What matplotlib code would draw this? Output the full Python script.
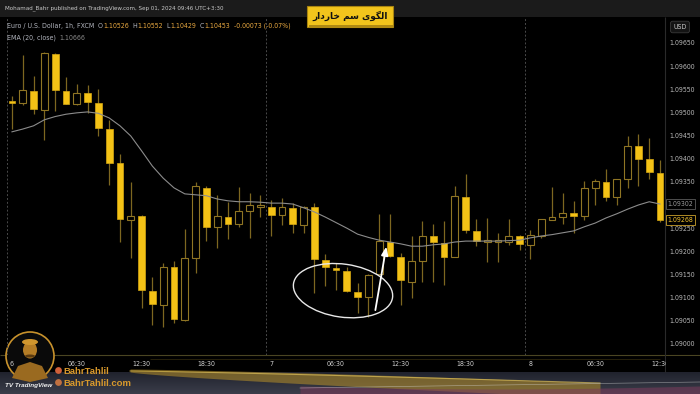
import numpy as np
import matplotlib
matplotlib.use('Agg')
import matplotlib.pyplot as plt
from matplotlib.patches import Rectangle, Ellipse, Circle, Polygon
import matplotlib.transforms as mtransforms
from matplotlib import font_manager as fm

# ---------------- data (EUR/USD 1h, FXCM) ----------------
opens = [1.09525, 1.09520, 1.09547, 1.09505, 1.09626, 1.09547, 1.09518, 1.09541, 1.09520, 1.09464,
         1.09390, 1.09268, 1.09277, 1.09114, 1.09084, 1.09167, 1.09052, 1.09185, 1.09337, 1.09252,
         1.09275, 1.09259, 1.09286, 1.09296, 1.09295, 1.09278, 1.09294, 1.09257, 1.09295, 1.09181,
         1.09163, 1.09158, 1.09113, 1.09101, 1.09151, 1.09221, 1.09187, 1.09133, 1.09179, 1.09234,
         1.09217, 1.09187, 1.09318, 1.09244, 1.09221, 1.09221, 1.09221, 1.09232, 1.09214, 1.09233,
         1.09268, 1.09274, 1.09282, 1.09276, 1.09336, 1.09349, 1.09317, 1.09356, 1.09428, 1.09399,
         1.09370]
highs = [1.09536, 1.09624, 1.09579, 1.09631, 1.09629, 1.09577, 1.09561, 1.09559, 1.09551, 1.09484,
         1.09410, 1.09350, 1.09278, 1.09145, 1.09174, 1.09179, 1.09248, 1.09350, 1.09342, 1.09322,
         1.09306, 1.09338, 1.09325, 1.09322, 1.09311, 1.09315, 1.09304, 1.09298, 1.09305, 1.09194,
         1.09174, 1.09167, 1.09131, 1.09151, 1.09281, 1.09281, 1.09196, 1.09232, 1.09266, 1.09258,
         1.09266, 1.09341, 1.09367, 1.09269, 1.09271, 1.09239, 1.09269, 1.09235, 1.09246, 1.09269,
         1.09338, 1.09325, 1.09309, 1.09352, 1.09356, 1.09377, 1.09356, 1.09448, 1.09453, 1.09444,
         1.09397]
lows = [1.09464, 1.09516, 1.09497, 1.09440, 1.09502, 1.09518, 1.09516, 1.09499, 1.09448, 1.09343,
        1.09221, 1.09185, 1.09077, 1.09041, 1.09037, 1.09046, 1.09050, 1.09153, 1.09223, 1.09207,
        1.09227, 1.09252, 1.09228, 1.09275, 1.09232, 1.09257, 1.09239, 1.09239, 1.09109, 1.09124,
        1.09116, 1.09113, 1.09066, 1.09059, 1.09149, 1.09187, 1.09084, 1.09099, 1.09134, 1.09134,
        1.09127, 1.09187, 1.09240, 1.09212, 1.09176, 1.09176, 1.09214, 1.09203, 1.09183, 1.09228,
        1.09267, 1.09259, 1.09239, 1.09268, 1.09300, 1.09309, 1.09300, 1.09336, 1.09340, 1.09356,
        1.09263]
closes = [1.09521, 1.09548, 1.09507, 1.09628, 1.09548, 1.09519, 1.09541, 1.09522, 1.09466, 1.09391,
          1.09270, 1.09277, 1.09116, 1.09086, 1.09167, 1.09053, 1.09185, 1.09340, 1.09253, 1.09277,
          1.09259, 1.09286, 1.09300, 1.09300, 1.09278, 1.09295, 1.09259, 1.09296, 1.09183, 1.09166,
          1.09159, 1.09115, 1.09102, 1.09149, 1.09223, 1.09190, 1.09137, 1.09179, 1.09234, 1.09219,
          1.09188, 1.09320, 1.09246, 1.09222, 1.09224, 1.09223, 1.09233, 1.09216, 1.09235, 1.09269,
          1.09275, 1.09283, 1.09277, 1.09336, 1.09352, 1.09318, 1.09356, 1.09428, 1.09399, 1.09371,
          1.09268]
ema20 = [1.09458, 1.09464, 1.09471, 1.09484, 1.09491, 1.09496, 1.09499, 1.09501, 1.09498, 1.09488,
         1.09471, 1.09449, 1.09417, 1.09384, 1.09358, 1.09337, 1.09324, 1.09322, 1.09320, 1.09313,
         1.09309, 1.09307, 1.09307, 1.09306, 1.09304, 1.09304, 1.09302, 1.09294, 1.09285, 1.09274,
         1.09262, 1.09250, 1.09237, 1.09230, 1.09224, 1.09220, 1.09216, 1.09211, 1.09211, 1.09214,
         1.09216, 1.09220, 1.09222, 1.09222, 1.09222, 1.09222, 1.09223, 1.09224, 1.09229, 1.09233,
         1.09236, 1.09240, 1.09244, 1.09253, 1.09261, 1.09272, 1.09281, 1.09291, 1.09300, 1.09307,
         1.09302]

time_tick_pos = [0, 6, 12, 18, 24, 30, 36, 42, 48, 54, 60]
time_tick_labels = ['6', '06:30', '12:30', '18:30', '7', '06:30', '12:30', '18:30', '8', '06:30', '12:30']
# scale labels shown (1.09300 is hidden behind the EMA price tag)
price_ticks = [1.09000, 1.09050, 1.09100, 1.09150, 1.09200, 1.09250,
               1.09350, 1.09400, 1.09450, 1.09500, 1.09550, 1.09600, 1.09650]
session_breaks = [-0.5, 23.5, 47.5]
last_price = 1.09268
ema_last = 1.09302

title_fa = "الگوی سم خاردار"
header_text = "Mohamad_Bahr published on TradingView.com, Sep 01, 2024 09:46 UTC+3:30"
symbol_text = "Euro / U.S. Dollar, 1h, FXCM"
ohlc_labels = ['O', 'H', 'L', 'C']
ohlc_values = ['1.10526', '1.10552', '1.10429', '1.10453']
change_text = "-0.00073 (-0.07%)"
ema_label = "EMA (20, close)"
ema_value = "1.10666"

# pattern annotation (bar index, price)
ellipse_center = (30.65, 1.09115)
arrow_from = (33.6, 1.09067)
arrow_to = (34.7, 1.09216)

# ---------------- simple Persian shaping for display ----------------
_forms = {
    'ا': ('\uFE8D', '\uFE8E', None, None),
    'ل': ('\uFEDD', '\uFEDE', '\uFEDF', '\uFEE0'),
    'گ': ('\uFB92', '\uFB93', '\uFB94', '\uFB95'),
    'و': ('\uFEED', '\uFEEE', None, None),
    'ی': ('\uFBFC', '\uFBFD', '\uFBFE', '\uFBFF'),
    'س': ('\uFEB1', '\uFEB2', '\uFEB3', '\uFEB4'),
    'م': ('\uFEE1', '\uFEE2', '\uFEE3', '\uFEE4'),
    'خ': ('\uFEA5', '\uFEA6', '\uFEA7', '\uFEA8'),
    'ر': ('\uFEAD', '\uFEAE', None, None),
    'د': ('\uFEA9', '\uFEAA', None, None),
}


def shape_fa(s):
    out = []
    for i, ch in enumerate(s):
        if ch not in _forms:
            out.append(ch)
            continue
        prev = s[i - 1] if i > 0 else ''
        nxt = s[i + 1] if i + 1 < len(s) else ''
        jp = prev in _forms and _forms[prev][2] is not None
        jn = nxt in _forms and _forms[ch][2] is not None
        iso, fin, ini, med = _forms[ch]
        if jp and jn:
            out.append(med)
        elif jp:
            out.append(fin)
        elif jn:
            out.append(ini)
        else:
            out.append(iso)
    return ''.join(reversed(out))


# ---------------- font selection (prefer a condensed face) ----------------
def pick_narrow():
    prefs = ['Liberation Sans Narrow', 'DejaVu Sans', 'Roboto', 'Open Sans', 'Noto Sans', 'Lato']
    for name in prefs:
        for f in fm.fontManager.ttflist:
            if f.name != name or f.style != 'normal':
                continue
            if str(f.weight).lower() not in ('400', 'normal', 'regular', 'book'):
                continue
            if 'condensed' in str(f.stretch) or 'Narrow' in name:
                return fm.FontProperties(fname=f.fname)
    return fm.FontProperties(family='Roboto')


BASE_FP = pick_narrow()

# ---------------- figure ----------------
W, H = 700, 394
fig = plt.figure(figsize=(7.0, 3.94), dpi=100, facecolor='#111111')
renderer = fig.canvas.get_renderer()


def fp_size(size):
    p = BASE_FP.copy()
    p.set_size(size)
    return p


def text_width(s, fp):
    t = fig.text(0, 0, s, fontproperties=fp)
    w = t.get_window_extent(renderer).width
    t.remove()
    return w


def fit_size(s, target_px, lo=4.0, hi=7.0):
    w = text_width(s, fp_size(6.0))
    return float(np.clip(6.0 * target_px / w, lo, hi))


# background overlay (pixel coords)
bg = fig.add_axes([0, 0, 1, 1], zorder=-1)
bg.set_xlim(0, W)
bg.set_ylim(H, 0)
bg.axis('off')
bg.add_patch(Rectangle((0, 0), W, 17, color='#1b1b1b', lw=0))
bg.add_patch(Rectangle((0, 17), W, 355, color='#000000', lw=0))
grad = np.linspace(0, 1, 50)[:, None]
bg.imshow(np.dstack([0.11 + 0.12 * grad, 0.12 + 0.12 * grad, 0.16 + 0.13 * grad]) * np.ones((1, 10, 1)),
          extent=(0, W, 394, 369), aspect='auto', zorder=0.5)
xs = np.linspace(130, 600, 100)
t = (xs - 130) / 470
top = 369 + 14 * t ** 1.3
bot = 372 + 26 * t ** 0.8
bg.fill_between(xs, top, bot, color='#b8912a', alpha=0.55, lw=0, zorder=1)
bg.plot(xs, 371 + 12 * t ** 1.2, color='#f0d060', lw=0.8, alpha=0.6, zorder=1.1)
xs2 = np.linspace(300, 700, 100)
t2 = (xs2 - 300) / 400
bg.fill_between(xs2, 386 + 3 * np.sin(t2 * np.pi), 394, color='#7a3a5a', alpha=0.55, lw=0, zorder=1)
bg.plot(xs2, 388 - 6 * t2, color='#d8d8d8', lw=0.5, alpha=0.5, zorder=1.2)
bg.hlines(355, 0, W, color='#4a4522', lw=0.8, zorder=2)
bg.hlines(359, 150, 660, color='#5a4a18', lw=0.5, alpha=0.6, zorder=2)
bg.vlines(665, 17, 372, color='#2a2a2a', lw=0.8, zorder=2)

# logo (behind the chart's tick labels)
bg.add_patch(Circle((30, 356), 24, fc='#0a0a0a', ec='#c8922c', lw=1.2, zorder=3))
bg.add_patch(Polygon([[12, 378], [18, 366], [30, 362], [42, 366], [48, 378], [30, 382]],
                     closed=True, fc='#9a6a20', ec='none', zorder=4))
bg.add_patch(Ellipse((30, 350), 14, 17, fc='#b57d26', ec='none', zorder=4))
bg.add_patch(Ellipse((30, 342), 16, 6, fc='#d0962e', ec='none', zorder=4))
bg.add_patch(Ellipse((30, 356), 10, 3, fc='#5a3a10', ec='none', zorder=5))

# main price axes (transparent face; black drawn underneath)
ax = fig.add_axes([3 / W, 1 - 355 / H, (665 - 3) / W, (355 - 17) / H], zorder=1)
ax.patch.set_alpha(0)
for sp in ax.spines.values():
    sp.set_visible(False)
ax.set_xlim(-0.83, 60.46)
ax.set_ylim(1.08976, 1.09706)

x = np.arange(len(opens))
o = np.array(opens)
c = np.array(closes)
h = np.array(highs)
l = np.array(lows)
bull = c >= o

WICK = '#7d6720'
HOLLOW = '#8f7524'
FILL = '#f4c216'
ax.vlines(x, l, h, color=WICK, lw=0.9, zorder=2)
body_b = np.minimum(o, c)
body_h = np.maximum(np.abs(c - o), 0.000025)
ax.bar(x[bull], body_h[bull], bottom=body_b[bull], width=0.62,
       facecolor='#000000', edgecolor=HOLLOW, lw=0.8, zorder=3)
ax.bar(x[~bull], body_h[~bull], bottom=body_b[~bull], width=0.62,
       facecolor=FILL, edgecolor='#d6a812', lw=0.5, zorder=3)

ax.plot(x, ema20, color='#8c8c8c', lw=0.8, zorder=4)

for sb in session_breaks:
    ax.axvline(sb, color='#4a4a4a', lw=0.7, ls=(0, (2, 2)), zorder=1)

# axes ticks
price_fp = fp_size(fit_size('1.09650', 24.0, 5.0, 6.0))
time_fp = fp_size(fit_size('06:30', 16.5, 5.0, 6.0))
ax.yaxis.tick_right()
ax.set_yticks(price_ticks)
ax.set_yticklabels(['%.5f' % p for p in price_ticks], fontproperties=price_fp, color='#b8b8b8')
ax.set_xticks(time_tick_pos)
ax.set_xticklabels(time_tick_labels, fontproperties=time_fp, color='#cfcfcf')
ax.tick_params(axis='both', length=0)
ax.tick_params(axis='y', pad=3.0)
ax.tick_params(axis='x', pad=4.5)

# price labels on scale
blend = mtransforms.blended_transform_factory(ax.transAxes, ax.transData)
ax.text(1.004, ema_last, '%.5f' % ema_last, transform=blend, fontproperties=price_fp,
        color='#9a9a9a', va='center', ha='left', zorder=6,
        bbox=dict(boxstyle='square,pad=0.25', fc='#000000', ec='#5a5a5a', lw=0.6))
ax.text(1.004, last_price, '%.5f' % last_price, transform=blend, fontproperties=price_fp,
        color='#f2c230', va='center', ha='left', zorder=6,
        bbox=dict(boxstyle='square,pad=0.25', fc='#000000', ec='#c9a02a', lw=0.6))

# pattern annotation: ellipse + arrow
etr = fig.dpi_scale_trans + mtransforms.ScaledTranslation(ellipse_center[0], ellipse_center[1], ax.transData)
ax.add_patch(Ellipse((0, 0), 1.0, 0.53, angle=-8, transform=etr, fill=False,
                     ec='#e8e8e8', lw=1.0, zorder=7, clip_on=False))
ax.annotate('', xy=arrow_to, xytext=arrow_from,
            arrowprops=dict(arrowstyle='-|>,head_length=0.5,head_width=0.2', color='white', lw=1.3),
            zorder=7)

# foreground overlay
fg = fig.add_axes([0, 0, 1, 1], zorder=5)
fg.set_xlim(0, W)
fg.set_ylim(H, 0)
fg.axis('off')
fg.patch.set_alpha(0)

# cover truncated last time label under price scale
fg.add_patch(Rectangle((666, 356), 34, 15, color='#000000', lw=0, zorder=1))


def seq_text(x0, y, pieces, fp, gaps):
    xx = x0
    for (s, col), g in zip(pieces, gaps):
        tt = fg.text(xx, y, s, fontproperties=fp, color=col, va='center', ha='left')
        xx += tt.get_window_extent(renderer).width + g


GRAY = '#b2b5be'
ORANGE = '#e8a840'
line1 = [(symbol_text, GRAY)]
gaps1 = [3.5]
for lab, val in zip(ohlc_labels, ohlc_values):
    line1 += [(lab, GRAY), (val, ORANGE)]
    gaps1 += [0.3, 3.5]
line1 += [(change_text, ORANGE)]
gaps1 += [0]
full1 = symbol_text + '  ' + '  '.join(a + b for a, b in zip(ohlc_labels, ohlc_values)) + '  ' + change_text
leg_fp = fp_size(fit_size(full1, 255, 5.0, 6.2))
seq_text(7, 26, line1, leg_fp, gaps1)
seq_text(7, 37.5, [(ema_label, GRAY), (ema_value, '#8a8a8a')], leg_fp, [3.5, 0])

hdr_fp = fp_size(fit_size(header_text, 215, 4.5, 6.0))
fg.text(5, 8.5, header_text, fontproperties=hdr_fp, color='#c8c8c8', va='center', ha='left')

# USD box
fg.text(680, 27, 'USD', fontproperties=price_fp, color='#c8c8c8', va='center', ha='center',
        bbox=dict(boxstyle='round,pad=0.4,rounding_size=0.3', fc='#141414', ec='#3a3a3a', lw=0.6))

# title box
fg.add_patch(Rectangle((307, 6), 86, 21, fc='#f2c41c', ec='#a88410', lw=0.8, zorder=3))
fg.add_patch(Rectangle((309, 25), 84, 2.5, fc='#b08a12', lw=0, zorder=3))
fg.text(350, 16, shape_fa(title_fa), fontsize=6.5, color='#111111', weight='bold',
        family=['DejaVu Sans'], va='center', ha='center', zorder=4)

# brand texts
fg.add_patch(Circle((58.5, 370.5), 3.4, fc='#d0603a', ec='none', zorder=3))
fg.text(63, 371, 'BahrTahlil', fontsize=6.8, color='#d8992c', weight='bold',
        family=['Liberation Sans', 'DejaVu Sans'], va='center', ha='left', zorder=4)
fg.add_patch(Circle((58.5, 382.5), 3.4, fc='#c07040', ec='none', zorder=3))
fg.text(63, 383, 'BahrTahlil.com', fontsize=6.8, color='#d8992c', weight='bold',
        family=['Liberation Sans', 'DejaVu Sans'], va='center', ha='left', zorder=4)
fg.text(5, 385, 'TV TradingView', fontsize=4.6, color='#f0f0f0', weight='bold', style='italic',
        family=['Liberation Sans', 'DejaVu Sans'], va='center', ha='left', zorder=4)

fig.savefig('out.png', dpi=100, facecolor=fig.get_facecolor())
